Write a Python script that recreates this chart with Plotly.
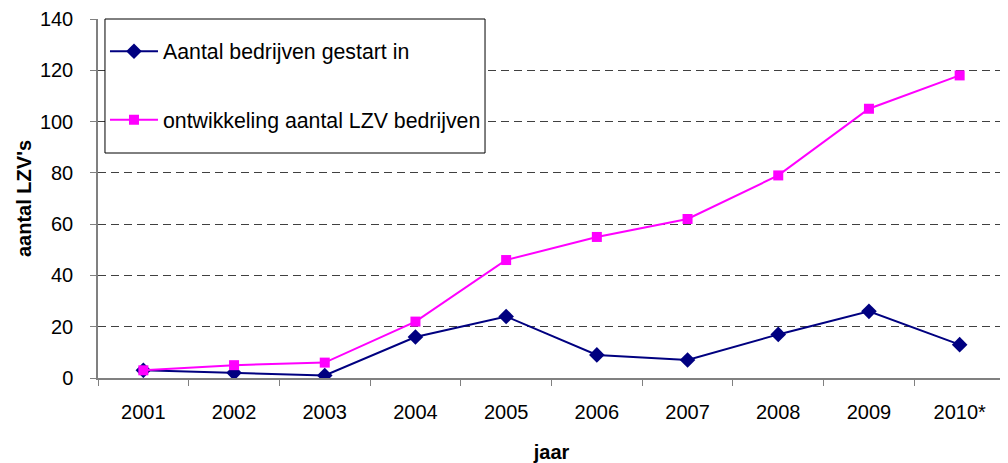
import plotly.graph_objects as go

years = ["2001", "2002", "2003", "2004", "2005", "2006", "2007", "2008", "2009", "2010*"]
gestart = [3, 2, 1, 16, 24, 9, 7, 17, 26, 13]
totaal = [3, 5, 6, 22, 46, 55, 62, 79, 105, 118]
y_ticks = [0, 20, 40, 60, 80, 100, 120, 140]

FONT = "Liberation Sans, Arial, sans-serif"

fig = go.Figure()
fig.add_trace(go.Scatter(x=years, y=gestart, mode="lines+markers", name="Aantal bedrijven gestart in",
                         legendgroup="a",
                         line=dict(color="#000080", width=2),
                         marker=dict(symbol="diamond", size=12, color="#000080")))
fig.add_trace(go.Scatter(x=years, y=totaal, mode="lines+markers", name="ontwikkeling aantal LZV bedrijven",
                         legendgroup="b",
                         line=dict(color="#FF00FF", width=2),
                         marker=dict(symbol="square", size=10, color="#FF00FF")))

# legend frame
fig.add_shape(type="rect", xref="paper", yref="paper",
              x0=0.0077, x1=0.4267, y0=0.6267, y1=1.0,
              line=dict(color="black", width=1), fillcolor="white", layer="above")

fig.update_layout(
    width=1000, height=455,
    margin=dict(l=90, r=3, t=11, b=85),
    paper_bgcolor="white", plot_bgcolor="white",
    font=dict(family=FONT, size=20, color="black"),
    legend=dict(x=0.0077, y=0.996, xanchor="left", yanchor="top",
                borderwidth=0, bgcolor="rgba(0,0,0,0)",
                font=dict(size=21.3), tracegroupgap=38, traceorder="grouped",
                itemwidth=48,
                title=dict(text=" ", font=dict(size=8))),
    showlegend=True,
)
fig.update_xaxes(
    type="category", range=[-0.5, len(years) - 0.5],
    showline=True, linecolor="#808080", linewidth=1.5,
    ticks="outside", tickson="boundaries", ticklen=6, tickcolor="#808080",
    ticklabelstandoff=15,
    showgrid=False, mirror=False, automargin=False,
    title=dict(text="<b>jaar</b>", font=dict(size=20), standoff=23),
)
fig.update_yaxes(
    range=[0, 140], tickvals=y_ticks, showline=True, linecolor="#808080", linewidth=1.5,
    ticks="outside", ticklen=6, tickcolor="#808080",
    ticklabelstandoff=13,
    showgrid=True, gridcolor="#404040", griddash="8px,5px", gridwidth=1,
    zeroline=False, automargin=False,
    title=dict(text="<b>aantal LZV's</b>", font=dict(size=20), standoff=3),
)

fig.write_html("out.html")
